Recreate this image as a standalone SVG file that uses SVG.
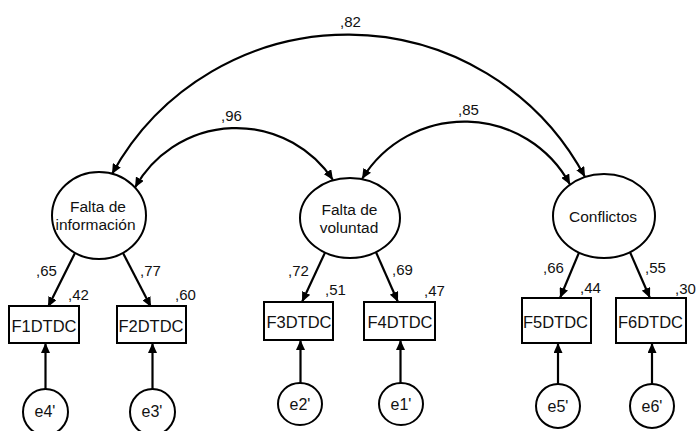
<svg xmlns="http://www.w3.org/2000/svg" width="699" height="431" viewBox="0 0 699 431">
  <style>
    .lat { fill: #fff; stroke: #000; stroke-width: 2; }
    .obs { fill: #fff; stroke: #000; stroke-width: 2; }
    .err { fill: #fff; stroke: #000; stroke-width: 2; }
    .edge { fill: none; stroke: #000; stroke-width: 2.2; }
    text { font-family: "Liberation Sans", Arial, sans-serif; fill: #111; }
    .lt { font-size: 15.5px; text-anchor: middle; }
    .bt { font-size: 16.5px; text-anchor: middle; }
    .et { font-size: 16px; text-anchor: middle; }
    .num { font-size: 15px; }
  </style>
  <defs>
    <marker id="head" markerUnits="userSpaceOnUse" markerWidth="11" markerHeight="9" refX="10" refY="4.5" orient="auto-start-reverse">
      <path d="M0,0 L10,4.5 L0,9 Z" fill="#000"/>
    </marker>
  </defs>
  <rect width="699" height="431" fill="#fff"/>

  <!-- connectors -->
  <g id="connectors">
    <!-- covariances between latent factors -->
    <path class="edge" d="M112,174 A269,269 0 0,1 585,177" marker-start="url(#head)" marker-end="url(#head)"/>
    <path class="edge" d="M135,187.5 A116,116 0 0,1 333,180" marker-start="url(#head)" marker-end="url(#head)"/>
    <path class="edge" d="M362,179 A120,120 0 0,1 570,184.5" marker-start="url(#head)" marker-end="url(#head)"/>
    <!-- factor loadings -->
    <line class="edge" x1="75" y1="253" x2="48" y2="307" marker-end="url(#head)"/>
    <line class="edge" x1="123" y1="253" x2="151" y2="307" marker-end="url(#head)"/>
    <line class="edge" x1="325" y1="252.6" x2="302" y2="302" marker-end="url(#head)"/>
    <line class="edge" x1="376" y1="252.2" x2="398" y2="302" marker-end="url(#head)"/>
    <line class="edge" x1="579" y1="252.6" x2="560" y2="298" marker-end="url(#head)"/>
    <line class="edge" x1="630" y1="252.1" x2="650" y2="298" marker-end="url(#head)"/>
    <!-- error terms -->
    <line class="edge" x1="45.5" y1="389" x2="45.5" y2="343" marker-end="url(#head)"/>
    <line class="edge" x1="152.5" y1="389" x2="152.5" y2="343" marker-end="url(#head)"/>
    <line class="edge" x1="300.5" y1="383" x2="300.5" y2="340" marker-end="url(#head)"/>
    <line class="edge" x1="400.5" y1="383" x2="400.5" y2="340" marker-end="url(#head)"/>
    <line class="edge" x1="558" y1="384" x2="558" y2="343" marker-end="url(#head)"/>
    <line class="edge" x1="652" y1="384" x2="652" y2="343" marker-end="url(#head)"/>
  </g>

  <!-- coefficient labels -->
  <g id="labels" class="num">
    <text x="340" y="27">,82</text>
    <text x="221" y="121">,96</text>
    <text x="458" y="115">,85</text>
    <text x="36" y="276">,65</text>
    <text x="68" y="300">,42</text>
    <text x="140" y="276">,77</text>
    <text x="175" y="300">,60</text>
    <text x="288" y="276">,72</text>
    <text x="325" y="295">,51</text>
    <text x="392" y="275">,69</text>
    <text x="424" y="295.5">,47</text>
    <text x="543" y="272.5">,66</text>
    <text x="580" y="292.5">,44</text>
    <text x="645" y="272.5">,55</text>
    <text x="675" y="294">,30</text>
  </g>

  <!-- latent factors -->
  <g id="falta-informacion">
    <ellipse class="lat" cx="99" cy="215.5" rx="47" ry="43.5"/>
    <text class="lt" x="98" y="212">Falta de</text>
    <text class="lt" x="95.5" y="230">información</text>
  </g>
  <g id="falta-voluntad">
    <ellipse class="lat" cx="350" cy="218" rx="50" ry="40"/>
    <text class="lt" x="349.5" y="214.5">Falta de</text>
    <text class="lt" x="349" y="232.5">voluntad</text>
  </g>
  <g id="conflictos">
    <ellipse class="lat" cx="604" cy="216" rx="51" ry="42"/>
    <text class="lt" x="603" y="222">Conflictos</text>
  </g>

  <!-- observed indicators -->
  <g id="F1DTDC">
    <rect class="obs" x="9" y="306" width="70" height="37"/>
    <text class="bt" x="44" y="332">F1DTDC</text>
  </g>
  <g id="F2DTDC">
    <rect class="obs" x="117" y="306" width="69" height="37"/>
    <text class="bt" x="151" y="332">F2DTDC</text>
  </g>
  <g id="F3DTDC">
    <rect class="obs" x="264" y="302" width="69" height="38"/>
    <text class="bt" x="299" y="327.5">F3DTDC</text>
  </g>
  <g id="F4DTDC">
    <rect class="obs" x="364" y="302" width="71" height="38"/>
    <text class="bt" x="400" y="327.5">F4DTDC</text>
  </g>
  <g id="F5DTDC">
    <rect class="obs" x="522" y="298" width="69" height="45"/>
    <text class="bt" x="555.5" y="327.5">F5DTDC</text>
  </g>
  <g id="F6DTDC">
    <rect class="obs" x="616" y="298" width="70" height="45"/>
    <text class="bt" x="650.5" y="327.5">F6DTDC</text>
  </g>

  <!-- error terms -->
  <g id="e4">
    <ellipse class="err" cx="45.5" cy="412" rx="22.5" ry="23"/>
    <text class="et" x="45" y="417">e4'</text>
  </g>
  <g id="e3">
    <ellipse class="err" cx="152.5" cy="412" rx="22.5" ry="23"/>
    <text class="et" x="152" y="417">e3'</text>
  </g>
  <g id="e2">
    <ellipse class="err" cx="300" cy="404" rx="22" ry="21"/>
    <text class="et" x="300" y="409.5">e2'</text>
  </g>
  <g id="e1">
    <ellipse class="err" cx="401" cy="404" rx="22" ry="21"/>
    <text class="et" x="401" y="409.5">e1'</text>
  </g>
  <g id="e5">
    <ellipse class="err" cx="558" cy="406" rx="22" ry="22"/>
    <text class="et" x="558" y="411.5">e5'</text>
  </g>
  <g id="e6">
    <ellipse class="err" cx="652" cy="406" rx="22" ry="22"/>
    <text class="et" x="652" y="411.5">e6'</text>
  </g>
</svg>
